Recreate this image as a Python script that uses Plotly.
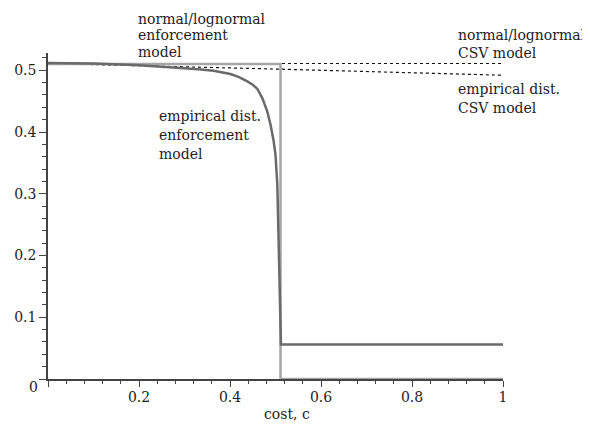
import plotly.graph_objects as go

# --- data ---
cost_norm_enf = [0.0, 0.511, 0.511, 1.0]
val_norm_enf = [0.510, 0.510, 0.0, 0.0]

cost_emp_enf = [0.0, 0.1, 0.2, 0.25, 0.291, 0.33, 0.364, 0.401, 0.42, 0.438, 0.450, 0.460,
                0.471, 0.482, 0.489, 0.496, 0.500, 0.504, 0.507, 0.509, 0.511, 0.512, 1.0]
val_emp_enf = [0.512, 0.511, 0.508, 0.506, 0.5036, 0.5015, 0.4992, 0.4939, 0.489, 0.4819,
               0.4765, 0.4701, 0.455, 0.433, 0.412, 0.385, 0.363, 0.315, 0.21, 0.129,
               0.07, 0.056, 0.056]

cost_norm_csv = [0.0, 1.0]
val_norm_csv = [0.511, 0.511]

cost_emp_csv = [0.0, 0.25, 0.5, 0.75, 1.0]
val_emp_csv = [0.511, 0.507, 0.502, 0.497, 0.492]

x_ticks = [0, 0.2, 0.4, 0.6, 0.8, 1]
x_ticktext = ["", "0.2", "0.4", "0.6", "0.8", "1"]
y_ticks = [0, 0.1, 0.2, 0.3, 0.4, 0.5]
y_ticktext = ["", "0.1", "0.2", "0.3", "0.4", "0.5"]
x_title = "cost, c"

FONT = "DejaVu Serif"
FS = 14
TXT = "#222222"

# page offset (browser body margin) compensation
OFF = 8
FIG_W, FIG_H = 590 - OFF, 428 - OFF
L, T = 47.5 - OFF, 53 - OFF
PW, PH = 456, 326.5
R = FIG_W - L - PW
B = FIG_H - T - PH

def px(xp):
    return (xp - OFF - L) / PW

def py(yp):
    return (FIG_H - B - (yp - OFF)) / PH

fig = go.Figure()
fig.add_trace(go.Scatter(x=cost_norm_csv, y=val_norm_csv, mode="lines",
                         line=dict(color="#111111", width=1.2, dash="dot"), cliponaxis=False))
fig.add_trace(go.Scatter(x=cost_emp_csv, y=val_emp_csv, mode="lines",
                         line=dict(color="#111111", width=1.2, dash="dot"), cliponaxis=False))
fig.add_trace(go.Scatter(x=cost_norm_enf, y=val_norm_enf, mode="lines",
                         line=dict(color="#a6a6a6", width=2.5), cliponaxis=False))
fig.add_trace(go.Scatter(x=cost_emp_enf, y=val_emp_enf, mode="lines",
                         line=dict(color="#6a6a6a", width=2.5), cliponaxis=False))

def label_px(lines, xp, yp0, dy=19, anchor="left"):
    for i, t in enumerate(lines):
        fig.add_annotation(text=t, xref="paper", yref="paper", x=px(xp), y=py(yp0 + i * dy),
                           xanchor=anchor, yanchor="middle", showarrow=False,
                           font=dict(family=FONT, size=FS, color=TXT))

label_px(["normal/lognormal", "enforcement", "model"], 136, 18.5, dy=16.5)
label_px(["empirical dist.", "enforcement", "model"], 157, 116)
label_px(["normal/lognormal", "CSV model"], 456, 35, dy=18)
label_px(["empirical dist.", "CSV model"], 456, 89)
label_px(["0"], 33, 388, anchor="center")
label_px([x_title], 287, 415, anchor="center")

fig.update_layout(
    width=FIG_W, height=FIG_H,
    margin=dict(l=L, r=R, t=T, b=B, pad=0, autoexpand=False),
    paper_bgcolor="white", plot_bgcolor="white",
    showlegend=False,
    font=dict(family=FONT, size=FS, color=TXT),
    xaxis=dict(range=[0, 1], tickvals=x_ticks, ticktext=x_ticktext, automargin=False,
               showgrid=False, zeroline=False, showline=True, linecolor="#444444", linewidth=1.5,
               ticks="outside", ticklen=6, tickwidth=1.2, tickcolor="#444444",
               ticklabelstandoff=-2,
               tickfont=dict(family=FONT, size=FS, color=TXT),
               minor=dict(dtick=0.04, ticks="outside", ticklen=3.5, tickcolor="#444444", tickwidth=1),
               fixedrange=True),
    yaxis=dict(range=[0, 0.528], tickvals=y_ticks, ticktext=y_ticktext, automargin=False,
               showgrid=False, zeroline=False, showline=True, linecolor="#444444", linewidth=1.5,
               ticks="outside", ticklen=7, tickwidth=1.2, tickcolor="#444444",
               tickfont=dict(family=FONT, size=FS, color=TXT),
               minor=dict(dtick=0.02, ticks="outside", ticklen=4, tickcolor="#444444", tickwidth=1),
               fixedrange=True),
)

fig.write_html("out.html")
